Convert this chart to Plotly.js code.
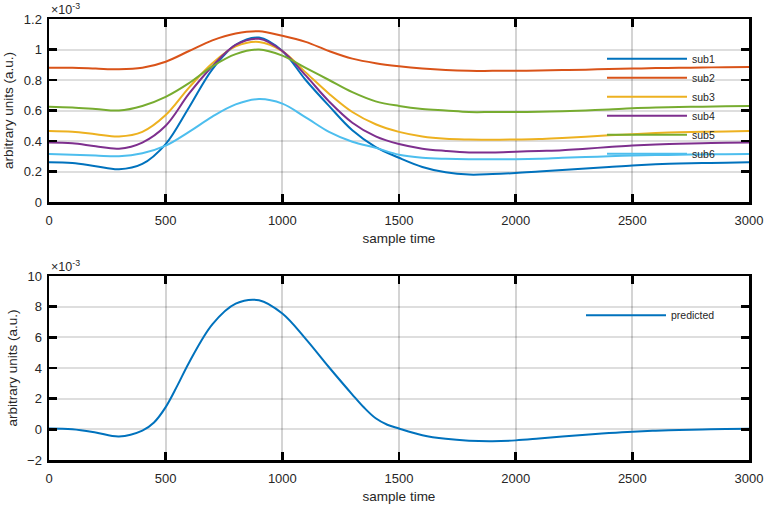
<!DOCTYPE html>
<html>
<head>
<meta charset="utf-8">
<script src="https://cdn.plot.ly/plotly-3.0.1.min.js"></script>
<style>
  html, body { margin: 0; padding: 0; background: #fff; }
  #chart { width: 765px; height: 506px; }
</style>
</head>
<body>
<div id="chart"></div>
<script>
// sample times (values below are in units of 1e-3)
const sampleTime = [0, 100, 200, 300, 400, 500, 600, 700, 800, 900, 1000, 1100, 1200, 1300, 1400,
  1500, 1600, 1700, 1800, 1900, 2000, 2100, 2200, 2300, 2400, 2500, 2600, 2700, 2800, 2900, 3000];

const sub1 = [0.26, 0.255, 0.235, 0.215, 0.25, 0.38, 0.62, 0.87, 1.03, 1.078, 0.99, 0.80, 0.63, 0.47, 0.36,
  0.29, 0.23, 0.195, 0.18, 0.183, 0.19, 0.20, 0.21, 0.22, 0.23, 0.24, 0.247, 0.252, 0.255, 0.258, 0.26];
const sub2 = [0.88, 0.88, 0.875, 0.87, 0.88, 0.92, 0.99, 1.06, 1.105, 1.12, 1.09, 1.05, 0.99, 0.94, 0.91,
  0.89, 0.875, 0.865, 0.86, 0.86, 0.86, 0.862, 0.865, 0.868, 0.872, 0.875, 0.878, 0.88, 0.882, 0.884, 0.885];
const sub3 = [0.465, 0.46, 0.445, 0.43, 0.46, 0.57, 0.75, 0.91, 1.02, 1.05, 0.99, 0.85, 0.71, 0.59, 0.51,
  0.46, 0.43, 0.415, 0.41, 0.408, 0.41, 0.413, 0.42, 0.428, 0.437, 0.445, 0.452, 0.457, 0.46, 0.463, 0.465];
const sub4 = [0.39, 0.385, 0.365, 0.35, 0.39, 0.50, 0.71, 0.89, 1.03, 1.07, 0.99, 0.83, 0.66, 0.52, 0.43,
  0.38, 0.35, 0.335, 0.325, 0.325, 0.33, 0.335, 0.34, 0.35, 0.36, 0.37, 0.377, 0.382, 0.385, 0.388, 0.39];
const sub5 = [0.625, 0.62, 0.61, 0.60, 0.63, 0.69, 0.78, 0.89, 0.97, 1.00, 0.96, 0.88, 0.80, 0.72, 0.66,
  0.63, 0.61, 0.60, 0.59, 0.59, 0.59, 0.592, 0.595, 0.60, 0.607, 0.615, 0.62, 0.623, 0.625, 0.628, 0.63];
const sub6 = [0.315, 0.31, 0.305, 0.30, 0.32, 0.37, 0.46, 0.56, 0.64, 0.675, 0.645, 0.555, 0.46, 0.395, 0.355,
  0.31, 0.29, 0.283, 0.28, 0.28, 0.28, 0.283, 0.29, 0.295, 0.30, 0.305, 0.308, 0.31, 0.312, 0.314, 0.315];

// the predicted curve is read a little more densely where it bends sharply
const predTime = [0, 100, 200, 300, 400, 450, 500, 550, 600, 700, 800, 900, 1000, 1100, 1200, 1300, 1350,
  1400, 1450, 1500, 1600, 1700, 1800, 1900, 2000, 2100, 2200, 2300, 2400, 2500, 2600, 2700, 2800, 2900, 3000];
const predicted = [0.05, 0.0, -0.2, -0.46, -0.08, 0.45, 1.45, 2.85, 4.35, 6.85, 8.2, 8.42, 7.55, 5.9, 4.05, 2.27, 1.42,
  0.72, 0.3, 0.05, -0.38, -0.62, -0.74, -0.77, -0.72, -0.6, -0.47, -0.35, -0.24, -0.15, -0.09, -0.04, -0.01, 0.02, 0.03];

const subNames = ["sub1", "sub2", "sub3", "sub4", "sub5", "sub6"];
const subSeries = [sub1, sub2, sub3, sub4, sub5, sub6];
const palette = ["#0072BD", "#D95319", "#EDB120", "#7E2F8E", "#77AC30", "#4DBEEE"];

const FONT = "Liberation Sans, Arial, sans-serif";
const INK = "#262626";

const traces = subSeries.map((ys, i) => ({
  x: sampleTime, y: ys, name: subNames[i], mode: "lines", type: "scatter",
  line: { color: palette[i], width: 2, shape: "spline", smoothing: 1 },
  xaxis: "x", yaxis: "y", legend: "legend",
}));
traces.push({
  x: predTime, y: predicted, name: "predicted", mode: "lines", type: "scatter",
  line: { color: palette[0], width: 2, shape: "spline", smoothing: 1 },
  xaxis: "x2", yaxis: "y2", legend: "legend2",
});

const baseAxis = {
  showline: true, mirror: "ticks", linecolor: "#000", linewidth: 2.5,
  ticks: "inside", ticklen: 8, tickwidth: 2.5, tickcolor: "#000",
  showgrid: true, zeroline: false,
  tickfont: { family: FONT, size: 13, color: INK },
};
const xAxis = {
  ...baseAxis, range: [0, 3000], dtick: 500, tick0: 0, ticklabelstandoff: 5,
  gridcolor: "rgba(0,0,0,0.17)", gridwidth: 2,
  title: { text: "sample time", font: { family: FONT, size: 13.5, color: INK }, standoff: 7 },
};
const yAxis = {
  ...baseAxis, gridcolor: "rgba(0,0,0,0.13)", gridwidth: 2, ticklabelstandoff: 2,
  title: { text: "arbitrary units (a.u.)", font: { family: FONT, size: 13.5, color: INK }, standoff: 7 },
};

const legendFont = { family: FONT, size: 10.5, color: INK };

const layout = {
  width: 765, height: 506,
  margin: { l: 49, r: 16, t: 19, b: 46 },
  paper_bgcolor: "#fff", plot_bgcolor: "#fff",
  showlegend: true,
  xaxis: { ...xAxis, anchor: "y" },
  yaxis: { ...yAxis, domain: [0.585, 1], range: [0, 1.2], dtick: 0.2, anchor: "x" },
  xaxis2: { ...xAxis, anchor: "y2" },
  yaxis2: { ...yAxis, domain: [0, 0.4172], range: [-2, 10], dtick: 2, anchor: "x2" },
  legend: {
    x: 0.79, y: 0.943, xanchor: "left", yanchor: "top",
    bgcolor: "rgba(0,0,0,0)", font: legendFont, itemwidth: 80, tracegroupgap: 0,
  },
  legend2: {
    x: 0.76, y: 0.361, xanchor: "left", yanchor: "top",
    bgcolor: "rgba(0,0,0,0)", font: legendFont, itemwidth: 80,
  },
  annotations: [
    { xref: "paper", yref: "paper", x: 0, y: 1, xanchor: "left", yanchor: "bottom",
      text: "×10<sup>-3</sup>", showarrow: false, font: { family: FONT, size: 12.5, color: INK } },
    { xref: "paper", yref: "paper", x: 0, y: 0.4172, xanchor: "left", yanchor: "bottom",
      text: "×10<sup>-3</sup>", showarrow: false, font: { family: FONT, size: 12.5, color: INK } },
  ],
};

Plotly.newPlot("chart", traces, layout, { displayModeBar: false, staticPlot: true });
</script>
</body>
</html>
